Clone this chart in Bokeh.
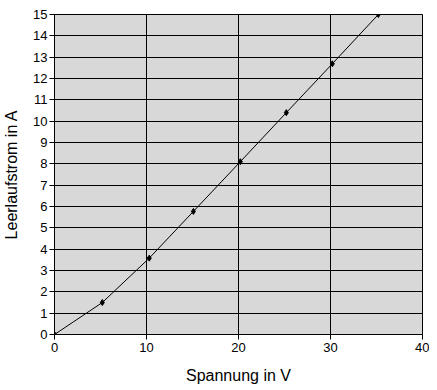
from bokeh.plotting import figure
from bokeh.embed import file_html
from bokeh.resources import INLINE
from bokeh.models import FixedTicker, Range1d

spannung = [0, 5.2, 10.3, 15.1, 20.2, 25.2, 30.2, 35.2]
strom = [0, 1.5, 3.58, 5.77, 8.1, 10.4, 12.69, 15.0]
x_ticks = [0, 10, 20, 30, 40]
y_ticks = list(range(0, 16))

p = figure(frame_width=368, frame_height=320, output_backend="svg", toolbar_location=None,
           x_range=Range1d(0, 40), y_range=Range1d(0, 15))
p.min_border_left = 48
p.min_border_right = 7
p.min_border_top = 14
p.min_border_bottom = 50
p.background_fill_color = "#d8d8d8"
p.border_fill_color = "white"
p.outline_line_color = "black"
p.outline_line_width = 1

p.line(spannung, strom, line_color="black", line_width=1)
p.scatter(spannung, strom, marker="diamond", size=6, color="black")

for ax in (p.xaxis[0], p.yaxis[0]):
    ax.axis_line_color = "black"
    ax.major_tick_line_color = "black"
    ax.minor_tick_line_color = None
    ax.major_tick_in = 0
    ax.major_tick_out = 5
    ax.major_label_text_font = "Liberation Sans"
    ax.major_label_text_font_size = "13px"
    ax.major_label_text_color = "black"
    ax.axis_label_text_font = "Liberation Sans"
    ax.axis_label_text_font_size = "16px"
    ax.axis_label_text_font_style = "normal"
    ax.axis_label_text_color = "black"

p.xaxis.ticker = FixedTicker(ticks=x_ticks)
p.yaxis.ticker = FixedTicker(ticks=y_ticks)
p.xaxis.axis_label = "Spannung in V"
p.yaxis.axis_label = "Leerlaufstrom in A"
p.xaxis.major_label_standoff = 3
p.yaxis.major_label_standoff = 2
p.xaxis.axis_label_standoff = 12
p.yaxis.axis_label_standoff = 10

p.xgrid.ticker = FixedTicker(ticks=x_ticks)
p.ygrid.ticker = FixedTicker(ticks=y_ticks)
p.grid.grid_line_color = "black"
p.grid.grid_line_width = 1
p.grid.grid_line_alpha = 1

open("out.html", "w").write(file_html(p, INLINE))
